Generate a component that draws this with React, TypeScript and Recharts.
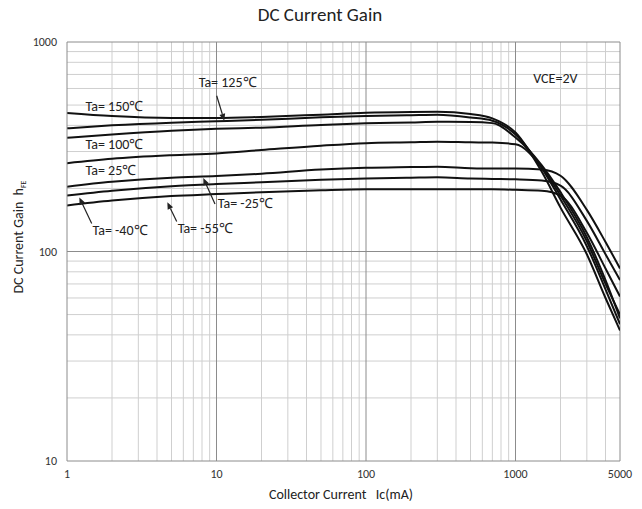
import React from 'react';
import { LineChart, Line, XAxis, YAxis, ReferenceLine, ReferenceDot } from 'recharts';

// Collector current Ic (mA)
const currents = [1, 2, 5, 10, 20, 50, 100, 200, 300, 500, 700, 1000, 1500, 2000, 3000, 4000, 5000];
// DC current gain hFE per ambient temperature
const gain150 = [458, 443, 434, 434, 439, 450, 459, 463, 464, 453, 432, 370, 240, 162, 97, 60, 42];
const gain125 = [387, 400, 412, 418, 425, 437, 443, 447, 449, 436, 421, 362, 250, 177, 106, 66, 45];
const gain100 = [349, 362, 377, 385, 390, 402, 409, 413, 416, 415, 410, 350, 258, 192, 117, 73, 48];
const gain25 = [264, 277, 288, 294, 305, 320, 329, 332, 334, 332, 331, 325, 252, 185, 112, 70, 50];
const gainM25 = [204, 215, 225, 229, 235, 246, 251, 253, 254, 250, 249, 249, 246, 230, 158, 111, 83];
const gainM40 = [185, 195, 205, 210, 214, 220, 223, 225, 226, 223, 222, 221, 218, 206, 140, 97, 73];
const gainM55 = [166, 175, 184, 188, 192, 196, 198, 198, 198, 198, 198, 197, 195, 185, 123, 83, 61];

const seriesKeys = ['t150', 't125', 't100', 't25', 'tm25', 'tm40', 'tm55'];
const seriesValues = [gain150, gain125, gain100, gain25, gainM25, gainM40, gainM55];

const data = currents.map((ic, i) => {
  const row: Record<string, number> = { ic };
  seriesKeys.forEach((k, j) => { row[k] = seriesValues[j][i]; });
  return row;
});

const xTicks = [1, 10, 100, 1000, 5000];
const yTicks = [10, 100, 1000];
const xMinorGrid = [2, 3, 4, 5, 6, 7, 8, 9, 20, 30, 40, 50, 60, 70, 80, 90, 200, 300, 400, 500, 600, 700, 800, 900, 2000, 3000, 4000];
const xMajorGrid = [10, 100, 1000, 5000];
const yMinorGrid = [20, 30, 40, 50, 60, 70, 80, 90, 200, 300, 400, 500, 600, 700, 800, 900];
const yMajorGrid = [100, 1000];

// annotation texts, anchored (left-middle) in data coordinates
const labelTexts = ['Ta= 150℃', 'Ta= 125℃', 'Ta= 100℃', 'Ta= 25℃', 'Ta= -25℃', 'Ta= -40℃', 'Ta= -55℃', 'VCE=2V'];
const labelX = [1.33, 7.6, 1.33, 1.33, 10.2, 1.48, 5.5, 1315];
const labelY = [495, 646, 325, 245, 170, 127, 129, 671];

// arrows: from (x1,y1) to tip (x2,y2) in data coordinates
const arrowX1 = [10.03, 9.77, 1.463, 5.42];
const arrowY1 = [554, 168.5, 136, 139];
const arrowX2 = [11.28, 8.16, 1.209, 4.69];
const arrowY2 = [421, 224, 181, 172];

const FONT = 'Carlito, Calibri, Lato, "Liberation Sans", sans-serif';

const Arrow = (p: any) => {
  const { x1, y1, x2, y2 } = p;
  if ([x1, y1, x2, y2].some((v) => typeof v !== 'number' || isNaN(v))) return null;
  const dx = x2 - x1;
  const dy = y2 - y1;
  const len = Math.sqrt(dx * dx + dy * dy) || 1;
  const ux = dx / len;
  const uy = dy / len;
  const hl = 7;
  const hw = 3;
  const bx = x2 - ux * hl;
  const by = y2 - uy * hl;
  const pts = `${x2},${y2} ${bx - uy * hw},${by + ux * hw} ${bx + uy * hw},${by - ux * hw}`;
  return (
    <g>
      <line x1={x1} y1={y1} x2={bx} y2={by} stroke="#222" strokeWidth={1.2} />
      <polygon points={pts} fill="#222" />
    </g>
  );
};

export default function App() {
  return (
    <div style={{ position: 'absolute', left: 0, top: 0, width: 642, height: 509, background: '#fff' }}>
      <LineChart
        width={642}
        height={509}
        data={data}
        margin={{ top: 42, right: 22, left: 0, bottom: 0 }}
        style={{ fontFamily: FONT }}
      >
        <XAxis
          dataKey="ic"
          type="number"
          scale="log"
          domain={[1, 5000]}
          ticks={xTicks}
          allowDataOverflow
          height={48}
          tickSize={0}
          tickMargin={8}
          tickLine={false}
          axisLine={{ stroke: '#8c8c8c' }}
          tick={{ fontSize: 12, fill: '#333', fontFamily: FONT }}
        />
        <YAxis
          type="number"
          scale="log"
          domain={[10, 1000]}
          ticks={yTicks}
          allowDataOverflow
          width={67}
          tickSize={0}
          tickMargin={10}
          tickLine={false}
          axisLine={{ stroke: '#8c8c8c' }}
          tick={{ fontSize: 12, fill: '#333', fontFamily: FONT }}
        />
        {xMinorGrid.map((v) => (
          <ReferenceLine key={'xm' + v} x={v} stroke="#cfcfcf" strokeWidth={1} />
        ))}
        {yMinorGrid.map((v) => (
          <ReferenceLine key={'ym' + v} y={v} stroke="#cfcfcf" strokeWidth={1} />
        ))}
        {xMajorGrid.map((v) => (
          <ReferenceLine key={'xM' + v} x={v} stroke="#8c8c8c" strokeWidth={1} />
        ))}
        {yMajorGrid.map((v) => (
          <ReferenceLine key={'yM' + v} y={v} stroke="#8c8c8c" strokeWidth={1} />
        ))}
        {seriesKeys.map((k) => (
          <Line
            key={k}
            dataKey={k}
            type="monotone"
            stroke="#111"
            strokeWidth={2}
            dot={false}
            isAnimationActive={false}
          />
        ))}
        {arrowX1.map((_, i) => (
          <ReferenceLine
            key={'ar' + i}
            segment={[{ x: arrowX1[i], y: arrowY1[i] }, { x: arrowX2[i], y: arrowY2[i] }]}
            shape={(p: any) => <Arrow {...p} />}
          />
        ))}
        {labelTexts.map((t, i) => (
          <ReferenceDot
            key={'lb' + i}
            x={labelX[i]}
            y={labelY[i]}
            r={0}
            shape={(p: any) => (
              <text x={p.cx} y={p.cy} dy="0.35em" fontSize={14} fill="#222" fontFamily={FONT}>
                {t}
              </text>
            )}
          />
        ))}
      </LineChart>
      <svg
        width={642}
        height={509}
        style={{ position: 'absolute', left: 0, top: 0, pointerEvents: 'none', fontFamily: FONT }}
      >
        <text x={320} y={14} dy="0.35em" textAnchor="middle" fontSize={19} fill="#222">
          DC Current Gain
        </text>
        <text x={341} y={494} dy="0.35em" textAnchor="middle" fontSize={14} fill="#222" xmlSpace="preserve">
          Collector Current   Ic(mA)
        </text>
        <text
          transform="translate(18,237) rotate(-90)"
          textAnchor="middle"
          dy="0.35em"
          fontSize={14}
          fill="#222"
          xmlSpace="preserve"
        >
          DC Current Gain  h<tspan fontSize={8} dy="3">FE</tspan>
        </text>
      </svg>
    </div>
  );
}
